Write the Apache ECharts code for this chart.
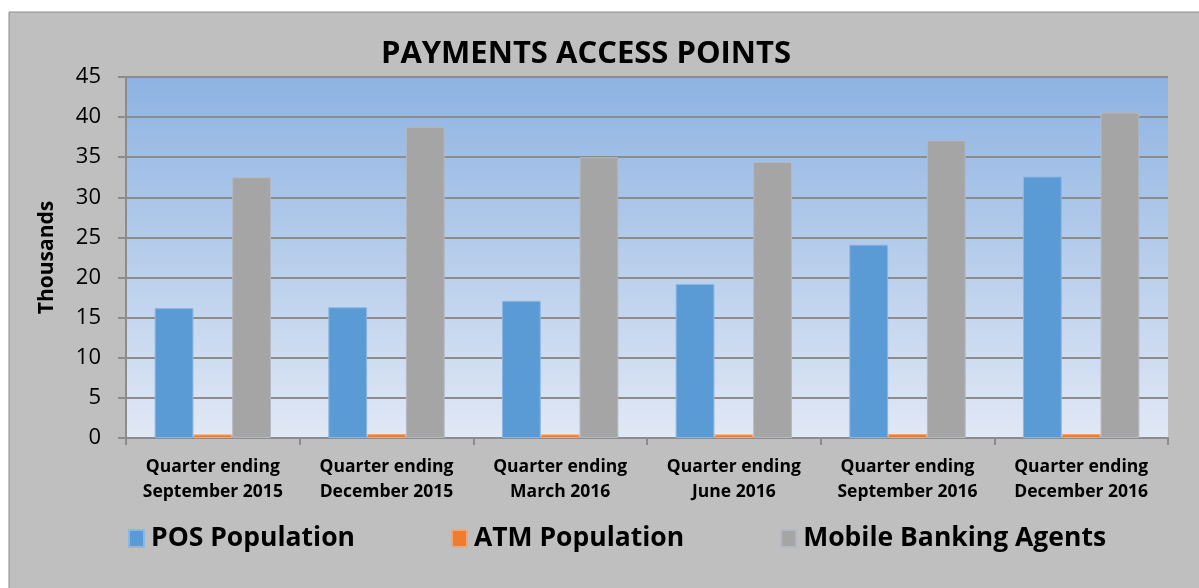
<!DOCTYPE html>
<html>
<head>
<meta charset="utf-8">
<script src="https://cdn.jsdelivr.net/npm/echarts@6/dist/echarts.min.js"></script>
<style>
  html, body { margin: 0; padding: 0; background: #fff; }
  #chart { width: 1199px; height: 588px; }
</style>
</head>
<body>
<div id="chart"></div>
<script>
const categories = [
  "Quarter ending\nSeptember 2015",
  "Quarter ending\nDecember 2015",
  "Quarter ending\nMarch 2016",
  "Quarter ending\nJune 2016",
  "Quarter ending\nSeptember 2016",
  "Quarter ending\nDecember 2016"
];
const posPopulation = [16.2, 16.3, 17.1, 19.2, 24.1, 32.6];
const atmPopulation = [0.45, 0.5, 0.45, 0.45, 0.5, 0.5];
const mobileAgents = [32.5, 38.8, 35.0, 34.4, 37.1, 40.6];
const yTicks = { min: 0, max: 45, interval: 5 };

const FONT = "Open Sans";
let myChart = echarts.init(document.getElementById("chart"));

function barSeries(name, data, color, border) {
  return {
    name: name,
    type: "bar",
    data: data,
    barGap: "0%",
    barCategoryGap: "33%",
    itemStyle: { color: color, borderColor: border, borderWidth: 1 }
  };
}

let option = {
  backgroundColor: "#ffffff",
  animation: false,
  graphic: [
    {
      type: "rect",
      z: -10,
      shape: { x: 9, y: 12, width: 1200, height: 590 },
      style: { fill: "#bfbfbf", stroke: "#8c8c8c", lineWidth: 1 }
    }
  ],
  title: {
    text: "PAYMENTS ACCESS POINTS",
    left: 581,
    top: 34,
    textAlign: "center",
    textStyle: { fontFamily: FONT, fontSize: 31, fontWeight: "bold", color: "#000" }
  },
  legend: {
    left: 123,
    top: 520,
    itemWidth: 15,
    itemHeight: 17,
    itemGap: 96,
    icon: "rect",
    textStyle: { fontFamily: FONT, fontSize: 26.5, fontWeight: "bold", color: "#000", padding: [0, 0, 0, 2] }
  },
  grid: {
    left: 126,
    right: 31,
    top: 77,
    bottom: 150,
    show: true,
    borderWidth: 0,
    backgroundColor: new echarts.graphic.LinearGradient(0, 0, 0, 1, [
      { offset: 0, color: "#8db3e2" },
      { offset: 1, color: "#e1e8f5" }
    ])
  },
  xAxis: {
    type: "category",
    data: categories,
    axisLine: { lineStyle: { color: "#8c8c8c", width: 2 } },
    axisTick: { show: true, length: 7, lineStyle: { color: "#8c8c8c", width: 2 } },
    axisLabel: {
      interval: 0,
      margin: 17,
      lineHeight: 25,
      fontFamily: FONT,
      fontSize: 17.5,
      fontWeight: "bold",
      color: "#000"
    }
  },
  yAxis: {
    type: "value",
    min: yTicks.min,
    max: yTicks.max,
    interval: yTicks.interval,
    name: "Thousands",
    nameLocation: "middle",
    nameGap: 68,
    nameRotate: 90,
    nameTextStyle: { fontFamily: FONT, fontSize: 21, fontWeight: "bold", color: "#000" },
    axisLine: { show: true, lineStyle: { color: "#8c8c8c", width: 2 } },
    axisTick: { show: true, length: 8, lineStyle: { color: "#8c8c8c", width: 2 } },
    axisLabel: { margin: 25, fontFamily: FONT, fontSize: 22, color: "#000" },
    splitLine: { lineStyle: { color: "#8c8c8c", width: 2 } }
  },
  series: [
    barSeries("POS Population", posPopulation, "#5b9bd5", "#8cb6e3"),
    barSeries("ATM Population", atmPopulation, "#ed7d31", "#f0a878"),
    barSeries("Mobile Banking Agents", mobileAgents, "#a5a5a5", "#b4b8c0")
  ]
};
myChart.setOption(option);
</script>
</body>
</html>
